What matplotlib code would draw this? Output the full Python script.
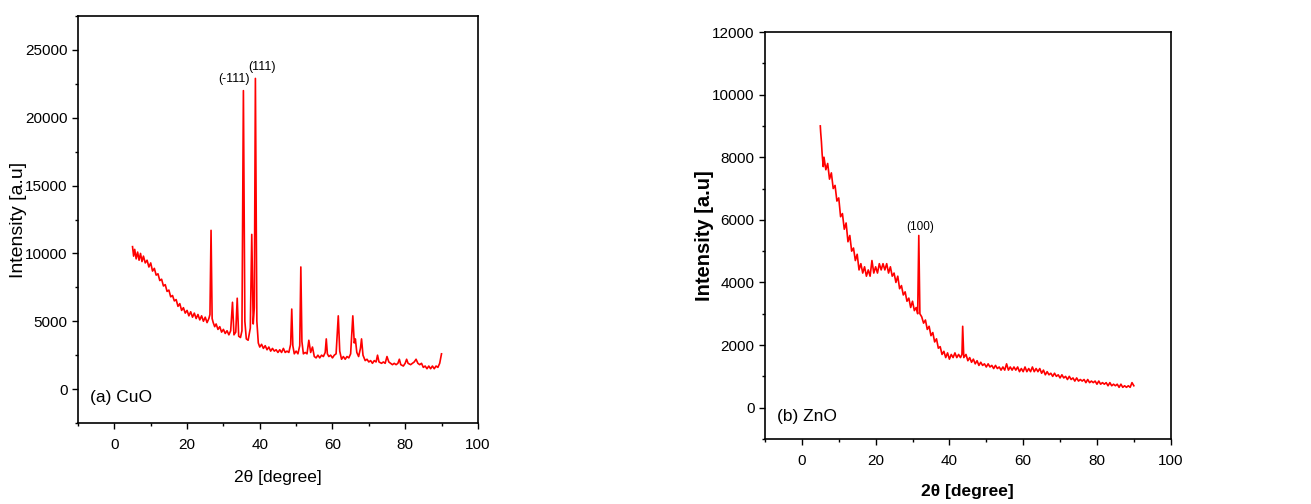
import matplotlib
matplotlib.use("Agg")
import matplotlib.pyplot as plt
from matplotlib.ticker import MultipleLocator

plt.rcParams['font.family'] = ['Liberation Sans', 'DejaVu Sans']

# ---- CuO data (2theta, intensity) ----
cuo_x = [5.0, 5.3, 5.6, 6.0, 6.4, 6.8, 7.2, 7.6, 8.0, 8.5, 9.0, 9.5, 10.0, 10.5, 11.0, 11.5,
         12.0, 12.5, 13.0, 13.5, 14.0, 14.5, 15.0, 15.5, 16.0, 16.5, 17.0, 17.5, 18.0, 18.5,
         19.0, 19.5, 20.0, 20.5, 21.0, 21.5, 22.0, 22.5, 23.0, 23.5, 24.0, 24.5, 25.0, 25.5,
         26.0, 26.3, 26.6, 26.9, 27.2, 27.6, 28.0, 28.5, 29.0, 29.5, 30.0, 30.5, 31.0, 31.5,
         32.0, 32.5, 32.9, 33.4, 33.8, 34.2, 34.7, 35.1, 35.5, 35.9, 36.3, 36.8, 37.4, 37.8,
         38.2, 38.5, 38.8, 39.2, 39.6, 40.0, 40.5, 41.0, 41.5, 42.0, 42.5, 43.0, 43.5, 44.0,
         44.5, 45.0, 45.5, 46.0, 46.5, 47.0, 47.5, 48.0, 48.5, 48.8, 49.1, 49.5, 50.0, 50.5,
         51.0, 51.3, 51.6, 52.0, 52.5, 53.0, 53.5, 54.0, 54.5, 55.0, 55.5, 56.0, 56.5, 57.0,
         57.5, 58.0, 58.3, 58.6, 59.0, 59.5, 60.0, 60.5, 61.0, 61.6, 62.0, 62.5, 63.0, 63.5,
         64.0, 64.5, 65.0, 65.6, 66.0, 66.3, 66.7, 67.2, 67.7, 68.0, 68.4, 69.0, 69.5, 70.0,
         70.5, 71.0, 71.5, 72.0, 72.4, 72.8, 73.5, 74.0, 74.5, 75.0, 75.5, 76.0, 76.5, 77.0,
         77.5, 78.0, 78.4, 78.8, 79.5, 80.0, 80.4, 80.8, 81.5, 82.0, 82.5, 83.0, 83.5, 84.0,
         84.5, 85.0, 85.5, 86.0, 86.5, 87.0, 87.5, 88.0, 88.5, 89.0, 89.5, 90.0]
cuo_y = [10500, 9800, 10300, 9600, 10100, 9500, 10000, 9400, 9800, 9300, 9500, 9000, 9300, 8700, 8900, 8400,
         8500, 8000, 8100, 7600, 7700, 7200, 7300, 6800, 6900, 6500, 6600, 6100, 6300, 5800,
         6000, 5600, 5800, 5400, 5700, 5300, 5600, 5200, 5500, 5100, 5400, 5000, 5300, 4900,
         5200, 5500, 11700, 5200, 4900, 4600, 4800, 4400, 4600, 4200, 4400, 4100, 4300, 4000,
         4300, 6400, 4000, 4200, 6700, 3900, 3800, 4300, 22000, 5000, 3700, 3600, 4500, 11400,
         4800, 6000, 22900, 5000, 3400, 3100, 3300, 3000, 3200, 2900, 3100, 2800, 3000, 2800,
         2900, 2700, 2900, 2700, 3000, 2700, 2800, 2700, 3300, 5900, 3200, 2600, 2800, 2600,
         3200, 9000, 3500, 2600, 2700, 2600, 3600, 2700, 3100, 2400, 2300, 2500, 2300, 2500,
         2400, 2700, 3700, 2600, 2400, 2500, 2300, 2500, 2600, 5400, 2800, 2200, 2400, 2200,
         2400, 2300, 2600, 5400, 3400, 3700, 2700, 2400, 3000, 3700, 2500, 2100, 2200, 2000,
         2100, 1900, 2100, 2000, 2500, 2000, 1900, 2000, 1900, 2400, 2000, 1900, 1800, 1900,
         1800, 1900, 2200, 1800, 1700, 1900, 2200, 1900, 1800, 1900, 2000, 2200, 1900, 1800,
         1900, 1600, 1700, 1500, 1700, 1500, 1700, 1500, 1700, 1600, 1900, 2600]

# ---- ZnO data ----
zno_x = [5.0, 5.1, 5.3, 5.5, 5.8, 6.0, 6.5, 7.0, 7.5, 8.0, 8.5, 9.0, 9.5, 10.0, 10.5, 11.0,
         11.5, 12.0, 12.5, 13.0, 13.5, 14.0, 14.5, 15.0, 15.5, 16.0, 16.5, 17.0, 17.5, 18.0,
         18.5, 19.0, 19.5, 20.0, 20.5, 21.0, 21.5, 22.0, 22.5, 23.0, 23.5, 24.0, 24.5, 25.0,
         25.5, 26.0, 26.5, 27.0, 27.5, 28.0, 28.5, 29.0, 29.5, 30.0, 30.5, 31.0, 31.4, 31.7,
         32.0, 32.5, 33.0, 33.5, 34.0, 34.5, 35.0, 35.5, 36.0, 36.5, 37.0, 37.5, 38.0, 38.5,
         39.0, 39.5, 40.0, 40.5, 41.0, 41.5, 42.0, 42.5, 43.0, 43.4, 43.6, 43.9, 44.5, 45.0,
         45.5, 46.0, 46.5, 47.0, 47.5, 48.0, 48.5, 49.0, 49.5, 50.0, 50.5, 51.0, 51.5, 52.0,
         52.5, 53.0, 53.5, 54.0, 54.5, 55.0, 55.5, 56.0, 56.5, 57.0, 57.5, 58.0, 58.5, 59.0,
         59.5, 60.0, 60.5, 61.0, 61.5, 62.0, 62.5, 63.0, 63.5, 64.0, 64.5, 65.0, 65.5, 66.0,
         66.5, 67.0, 67.5, 68.0, 68.5, 69.0, 69.5, 70.0, 70.5, 71.0, 71.5, 72.0, 72.5, 73.0,
         73.5, 74.0, 74.5, 75.0, 75.5, 76.0, 76.5, 77.0, 77.5, 78.0, 78.5, 79.0, 79.5, 80.0,
         80.5, 81.0, 81.5, 82.0, 82.5, 83.0, 83.5, 84.0, 84.5, 85.0, 85.5, 86.0, 86.5, 87.0,
         87.5, 88.0, 88.5, 89.0, 89.5, 90.0]
zno_y = [9000, 8800, 8500, 8100, 7700, 8000, 7600, 7800, 7300, 7500, 7000, 7100, 6600, 6700, 6100, 6200,
         5700, 5900, 5300, 5500, 5000, 5100, 4700, 4900, 4400, 4600, 4300, 4500, 4200, 4400,
         4200, 4700, 4300, 4500, 4300, 4600, 4400, 4600, 4400, 4600, 4300, 4500, 4200, 4300,
         4000, 4200, 3800, 3900, 3600, 3700, 3400, 3500, 3200, 3400, 3100, 3200, 3000, 5500,
         3000, 2900, 2700, 2800, 2500, 2600, 2300, 2400, 2100, 2200, 1900, 1950, 1700, 1800,
         1600, 1750, 1550, 1700, 1600, 1750, 1600, 1700, 1600, 1700, 2600, 1600, 1700, 1500,
         1600, 1450, 1550, 1400, 1500, 1350, 1450, 1350, 1400, 1300, 1400, 1300, 1350, 1250,
         1350, 1250, 1300, 1200, 1300, 1200, 1400, 1200, 1300, 1200, 1300, 1200, 1300, 1150,
         1250, 1150, 1300, 1150, 1250, 1150, 1300, 1150, 1250, 1150, 1250, 1100, 1200, 1050,
         1150, 1050, 1100, 1000, 1100, 1000, 1050, 950, 1050, 950, 1000, 900, 1000, 900,
         950, 850, 950, 850, 900, 850, 900, 800, 900, 800, 850, 800, 850, 750,
         850, 750, 800, 750, 800, 700, 800, 700, 750, 700, 750, 650, 750, 650,
         700, 650, 700, 650, 800, 700]

cuo_labels = ["(-111)", "(111)"]
cuo_label_pos = [(32.9, 22850), (40.6, 23750)]
zno_labels = ["(100)"]
zno_label_pos = [(32.0, 5775)]

fig = plt.figure(figsize=(13.11, 5.04), dpi=100)
ax1 = fig.add_axes([0.0595, 0.1607, 0.305, 0.8075])
ax2 = fig.add_axes([0.5835, 0.129, 0.3095, 0.8075])

red = '#ff0000'
ax1.plot(cuo_x, cuo_y, color=red, lw=1.2)
ax2.plot(zno_x, zno_y, color=red, lw=1.2)

ax1.set_xlim(-10, 100)
ax1.set_ylim(-2500, 27500)
ax1.xaxis.set_major_locator(MultipleLocator(20))
ax1.xaxis.set_minor_locator(MultipleLocator(10))
ax1.yaxis.set_major_locator(MultipleLocator(5000))
ax1.yaxis.set_minor_locator(MultipleLocator(2500))
ax1.set_xlabel("2θ [degree]", fontsize=12.5, va='center')
ax1.set_ylabel("Intensity [a.u]", fontsize=14, va='center')
ax1.xaxis.set_label_coords(0.5, -0.133)
ax1.yaxis.set_label_coords(-0.148, 0.5)
ax1.text(-6.7, -600, "(a) CuO", fontsize=12.5, va='center', ha='left')
for t, (x, y) in zip(cuo_labels, cuo_label_pos):
    ax1.text(x, y, t, fontsize=9, ha='center', va='center')

ax2.set_xlim(-10, 100)
ax2.set_ylim(-1000, 12000)
ax2.xaxis.set_major_locator(MultipleLocator(20))
ax2.xaxis.set_minor_locator(MultipleLocator(10))
ax2.yaxis.set_major_locator(MultipleLocator(2000))
ax2.yaxis.set_minor_locator(MultipleLocator(1000))
ax2.set_xlabel("2θ [degree]", fontsize=12.5, fontweight='bold', va='center')
ax2.set_ylabel("Intensity [a.u]", fontsize=14.5, fontweight='bold', va='center')
ax2.xaxis.set_label_coords(0.5, -0.130)
ax2.yaxis.set_label_coords(-0.150, 0.5)
ax2.text(-6.8, -290, "(b) ZnO", fontsize=12.5, va='center', ha='left')
for t, (x, y) in zip(zno_labels, zno_label_pos):
    ax2.text(x, y, t, fontsize=8.5, ha='center', va='center')

for ax in (ax1, ax2):
    ax.tick_params(which='both', direction='out', labelsize=11)
    ax.tick_params(axis='x', which='major', pad=7)
    ax.tick_params(which='major', length=4, width=1)
    ax.tick_params(which='minor', length=2.5, width=1)
    for s in ax.spines.values():
        s.set_linewidth(1.2)

fig.savefig("out.png", dpi=100)
